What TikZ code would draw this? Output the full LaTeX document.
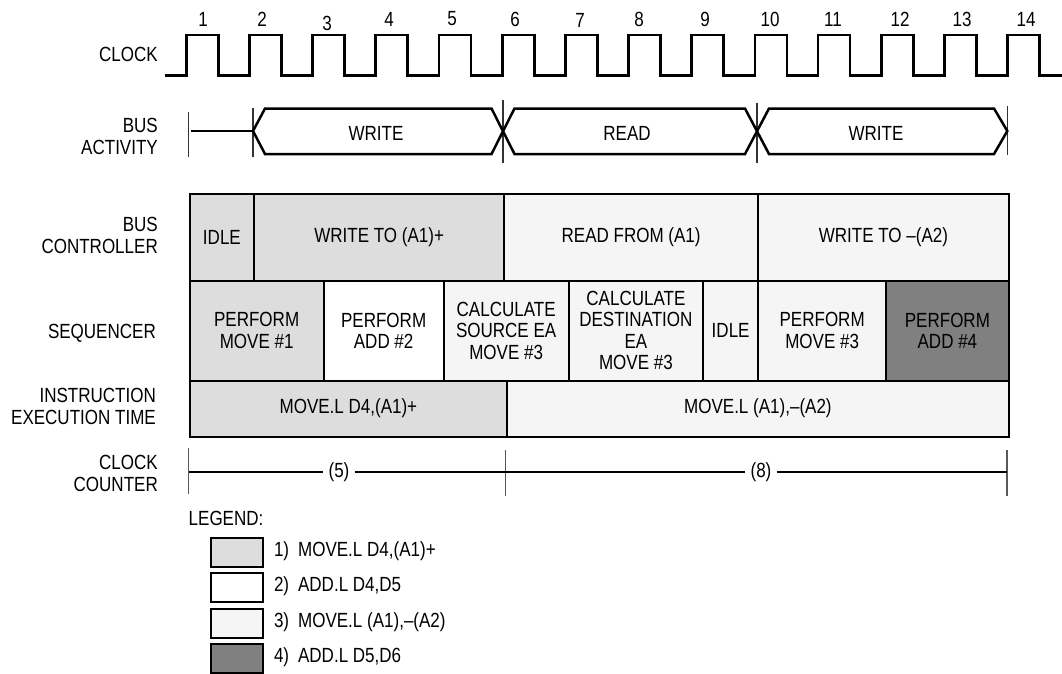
\documentclass[tikz,border=0pt]{standalone}
\usepackage{fontspec}
\setmainfont[FakeStretch=0.83]{Liberation Sans}
\definecolor{gA}{RGB}{221,221,221}
\definecolor{gC}{RGB}{245,245,245}
\definecolor{gD}{RGB}{128,128,128}
\begin{document}
\begin{tikzpicture}[x=1pt,y=-1pt,
  every node/.style={font=\fontsize{20.5}{21.5}\selectfont, inner sep=0pt},
  box/.style={draw, line width=2.3pt, anchor=north west, align=center, inner sep=0pt},
  lbl/.style={anchor=east, align=right, font=\fontsize{20.5}{22}\selectfont},
  wave/.style={line width=2.7pt, line join=miter},
  bus/.style={line width=2.5pt, line join=miter},
  tick/.style={line width=1.1pt, draw=black!80},
  cnt/.style={line width=2.2pt},
  cntick/.style={line width=1.5pt, draw=black!65},
  gapnode/.style={inner xsep=5pt}]
\useasboundingbox (0,0) rectangle (1062,673);

% ---------- row labels ----------
\node[lbl] (lclock) at (158,54) {CLOCK};
\node[lbl] (lbus) at (158,136) {BUS\\ACTIVITY};
\node[lbl] (lbc) at (158,235) {BUS\\CONTROLLER};
\node[lbl] (lseq) at (156,333) {SEQUENCER};
\node[lbl] (lins) at (156,406) {INSTRUCTION\\EXECUTION TIME};
\node[lbl] (lcc) at (158,473) {CLOCK\\COUNTER};

% ---------- clock ----------
\draw[wave] (164.6,75.5)
  \foreach \k in {0,...,13}{
    -- ({186.3+63.18*\k},75.5) -- ({186.3+63.18*\k},35)
    -- ({218.3+63.18*\k},35) -- ({218.3+63.18*\k},75.5)}
  -- (1062,75.5);
\foreach \n/\x/\y in {1/203/19,2/262/19,3/327/23,4/389/19,5/452/19,6/515/19,7/580/20,
  8/639/19,9/705/19,10/770/19,11/833/19,12/900/19,13/962/19,14/1026/19}
  \node (num\n) at (\x,\y) {\n};

% ---------- bus activity ----------
\draw[tick] (188.5,111.5) -- (188.5,157);
\draw[tick] (253,108) -- (253,157);
\draw[tick] (503,100) -- (503,163);
\draw[tick] (757,103) -- (757,163);
\draw[tick] (1007.3,106) -- (1007.3,155);
\draw[bus] (191,131) -- (253,131);
\draw[bus] (253,131) -- (265,108.5) -- (491.5,108.5) -- (514.5,154) -- (745,154)
  -- (769,108.5) -- (994,108.5) -- (1007.3,131) -- (994,154) -- (769,154)
  -- (745,108.5) -- (514.5,108.5) -- (491.5,154) -- (265,154) -- cycle;
\node (bw1) at (376,133) {WRITE};
\node (br) at (627,133) {READ};
\node (bw2) at (876,133) {WRITE};

% ---------- bus controller ----------
\node[box, fill=gA, minimum width=64.5pt, minimum height=87pt] (bc1) at (188.5,192.5) {IDLE};
\node[box, fill=gA, minimum width=250pt, minimum height=87pt] (bc2) at (253,192.5) {WRITE TO (A1)+};
\node[box, fill=gC, minimum width=254pt, minimum height=87pt] (bc3) at (503,192.5) {READ FROM (A1)};
\node[box, fill=gC, minimum width=250.5pt, minimum height=87pt] (bc4) at (757,192.5) {WRITE TO \textendash(A2)};

% ---------- sequencer ----------
\node[box, fill=gA, minimum width=134pt, minimum height=100pt] (s1) at (188.5,279.5) {PERFORM\\MOVE \#1};
\node[box, fill=white, minimum width=120pt, minimum height=100pt] (s2) at (322.5,279.5) {PERFORM\\ADD \#2};
\node[box, fill=gC, minimum width=125pt, minimum height=100pt] (s3) at (442.5,279.5) {CALCULATE\\SOURCE EA\\MOVE \#3};
\node[box, fill=gC, minimum width=134.5pt, minimum height=100pt] (s4) at (567.5,279.5) {CALCULATE\\DESTINATION\\EA\\MOVE \#3};
\node[box, fill=gC, minimum width=55pt, minimum height=100pt] (s5) at (702,279.5) {IDLE};
\node[box, fill=gC, minimum width=128pt, minimum height=100pt] (s6) at (757,279.5) {PERFORM\\MOVE \#3};
\node[box, fill=gD, minimum width=122.5pt, minimum height=100pt] (s7) at (885,279.5) {PERFORM\\ADD \#4};

% ---------- instruction execution time ----------
\node[box, fill=gA, minimum width=317.5pt, minimum height=56pt] (i1) at (188.5,379.5) {MOVE.L D4,(A1)+};
\node[box, fill=gC, minimum width=501.5pt, minimum height=56pt] (i2) at (506,379.5) {MOVE.L (A1),\textendash(A2)};

% ---------- clock counter ----------
\draw[cntick] (188.5,448) -- (188.5,493.5);
\draw[cntick] (505.7,450) -- (505.7,496);
\draw[cntick] (1007.2,450) -- (1007.2,496);
\coordinate (ccL) at (189,472);
\coordinate (ccM) at (505.7,472);
\coordinate (ccR) at (1007.2,472);
\node[gapnode] (c5) at (339,472) {(5)};
\node[gapnode] (c8) at (761,472) {(8)};
\draw[cnt] (ccL) -- (c5.west);
\draw[cnt] (c5.east) -- (ccM) -- (c8.west);
\draw[cnt] (c8.east) -- (ccR);

% ---------- legend ----------
\node[anchor=west] (leg) at (188.5,518.5) {LEGEND:};
\node[box, fill=gA, minimum width=51.7pt, minimum height=29pt] (lg1) at (210,537) {};
\node[box, fill=white, minimum width=51.7pt, minimum height=29pt] (lg2) at (210,571.5) {};
\node[box, fill=gC, minimum width=51.7pt, minimum height=29pt] (lg3) at (210,607.5) {};
\node[box, fill=gD, minimum width=51.7pt, minimum height=29pt] (lg4) at (210,643) {};
\node[anchor=west] (lt1) at (273.8,551.5) {1)\hspace{9pt}MOVE.L D4,(A1)+};
\node[anchor=west] (lt2) at (273.8,586) {2)\hspace{9pt}ADD.L D4,D5};
\node[anchor=west] (lt3) at (273.8,622) {3)\hspace{9pt}MOVE.L (A1),\textendash(A2)};
\node[anchor=west] (lt4) at (273.8,657.5) {4)\hspace{9pt}ADD.L D5,D6};
\end{tikzpicture}
\end{document}
